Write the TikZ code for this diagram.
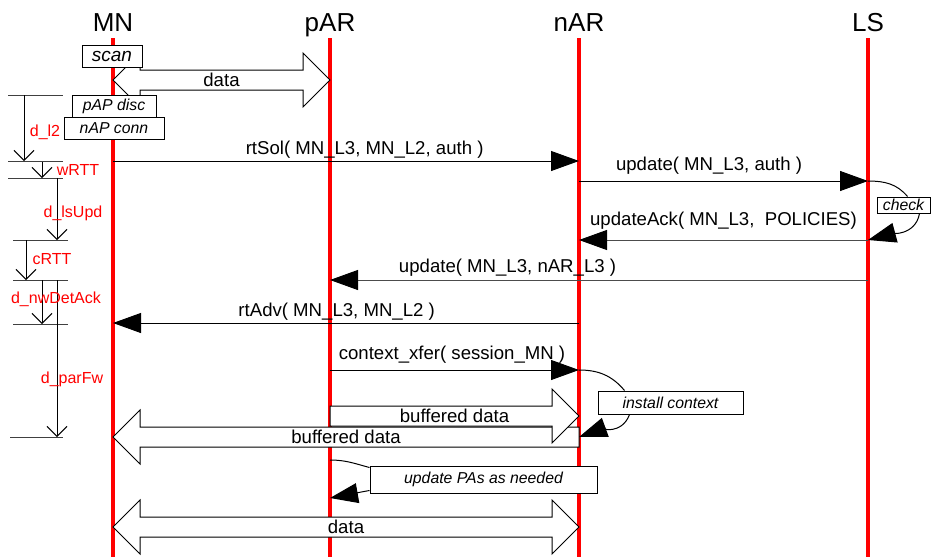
\documentclass[tikz,border=0pt]{standalone}
\usepackage{fontspec}
\setmainfont{Liberation Sans}
\usetikzlibrary{arrows.meta,calc}

% block arrow, tail at #1, tip at #2
\newcommand{\fatarrow}[3]{%
  \coordinate (fh) at ($(#2)!13.5pt!(#1)$);
  \draw[fat] ($(#1)+(0,5pt)$) -- ($(fh)+(0,5pt)$) -- ($(fh)+(0,13.5pt)$) -- (#2)
    -- ($(fh)+(0,-13.5pt)$) -- ($(fh)+(0,-5pt)$) -- ($(#1)+(0,-5pt)$) -- cycle;
  \path (#1) -- node[lab] {#3} (#2);
}
% block arrow, heads at both ends
\newcommand{\fatboth}[3]{%
  \coordinate (fa) at ($(#1)!13.5pt!(#2)$);
  \coordinate (fb) at ($(#2)!13.5pt!(#1)$);
  \draw[fat] (#1) -- ($(fa)+(0,13.5pt)$) -- ($(fa)+(0,5pt)$) -- ($(fb)+(0,5pt)$) -- ($(fb)+(0,13.5pt)$) -- (#2)
    -- ($(fb)+(0,-13.5pt)$) -- ($(fb)+(0,-5pt)$) -- ($(fa)+(0,-5pt)$) -- ($(fa)+(0,-13.5pt)$) -- cycle;
  \path (#1) -- node[lab] {#3} (#2);
}

\begin{document}
\begin{tikzpicture}[x=0.5pt, y=-0.5pt, line width=0.5pt,
	life/.style={red, line width=2pt},
	head/.style={font=\fontsize{13}{15}\selectfont, anchor=base},
	lab/.style={font=\fontsize{9.3}{11}\selectfont, inner sep=1pt},
	msg/.style={-{Triangle[length=14pt, width=10pt, black]}},
	act/.style={draw, fill=white, inner sep=0pt, font=\fontsize{7.9}{9}\selectfont\itshape},
	fat/.style={draw, fill=white},
	tick/.style={black!75},
	dim/.style={-{Straight Barb[length=5pt, width=10pt]}},
	tm/.style={red, font=\fontsize{8}{9}\selectfont, inner sep=0pt}]
	\useasboundingbox (0,0) rectangle (931,557);

	% lifelines
	\foreach \n/\x in {MN/113, pAR/330, nAR/579, LS/868} {
		\node[head] (\n) at (\x,32) {\n};
		\draw[life] (\x,38) -- (\x,557);
	}
	% message heights
	\foreach \m/\y in {data1/80, rtSol/161, upd/181, updAck/240, updPar/280, rtAdv/323, ctx/370,
		bufA/416, bufB/437, upS/460, upPA/498, data2/527}
		\coordinate (\m) at (0,\y);

	\draw[msg] (MN |- rtSol) -- node[lab, above, pos=.54] {rtSol( MN\_L3, MN\_L2, auth )} (nAR |- rtSol);
	\draw[msg] (nAR |- upd) -- node[lab, above=2pt, pos=.45] {update( MN\_L3, auth )} (LS |- upd);
	\draw[msg, black!70] (LS |- updAck) -- node[lab, black, above=4pt] {updateAck( MN\_L3,\ \ POLICIES)} (nAR |- updAck);
	\draw[msg, black!70] (LS |- updPar) -- node[lab, black, above=0.5pt, pos=.67] {update( MN\_L3, nAR\_L3 )} (pAR |- updPar);
	\draw[msg] (nAR |- rtAdv) -- node[lab, above, pos=.52] {rtAdv( MN\_L3, MN\_L2 )} (MN |- rtAdv);
	\draw[msg] (pAR |- ctx) -- node[lab, above=2pt, pos=.49] {context\_xfer( session\_MN )} (nAR |- ctx);

	% check at LS
	\node[act, minimum width=26.5pt, minimum height=8pt] (check) at (903.5,205) {check};
	\draw (LS |- upd) to[out=0, in=130] ([xshift=2pt]check.north);
	\draw[msg] ([xshift=8pt]check.south) to[out=-100, in=15] (LS |- updAck);

	% data transfers
	\fatboth{MN |- data1}{pAR |- data1}{data}
	\fatarrow{nAR |- bufB}{MN |- bufB}{buffered data}
	\fatarrow{pAR |- bufA}{nAR |- bufA}{buffered data}
	\fatboth{MN |- data2}{nAR |- data2}{data}

	% install context at nAR
	\node[act, minimum width=72.5pt, minimum height=11.5pt] (inst) at (670.5,402.5) {install context};
	\draw (nAR |- ctx) to[out=0, in=130] ([xshift=13.5pt]inst.north west);
	\draw[msg] ([xshift=16pt]inst.south west) to[out=-110, in=20] (nAR |- bufB);

	% update PAs at pAR
	\node[act, minimum width=113.5pt, minimum height=13.5pt] (upa) at (483.5,479.5) {update PAs as needed};
	\draw (pAR |- upS) to[out=0, in=165] ([yshift=-1pt]upa.north west);
	\draw[msg] ([yshift=1.5pt]upa.south west) to[out=190, in=10] (pAR |- upPA);

	% MN actions
	\node[act, font=\fontsize{9.5}{11}\selectfont\itshape, minimum width=30pt, minimum height=11pt] (scan) at (112,56) {scan};
	\node[act, minimum width=42pt, minimum height=11pt] (pAPd) at (114,106) {pAP disc};
	\node[act, minimum width=50pt, minimum height=11pt] (nAPc) at (114,128) {nAP conn};

	% delays
	\foreach \a/\b/\y in {8/63/95, 8/63/161, 8/63/178, 13/68/240, 13/68/280, 13/68/324, 10/63/437}
		\draw[tick] (\a,\y) -- (\b,\y);
	\draw[dim] (24,95) -- (24,161);
	\draw[dim] (42,162) -- (42,178);
	\draw[dim] (57,178) -- (57,240);
	\draw[dim] (26,240) -- (26,280);
	\draw[dim] (42,280) -- (42,324);
	\draw[dim] (57,280) -- (57,437);
	\node[tm] (dl2) at (45,132) {d\_l2};
	\node[tm] (wrtt) at (78,170) {wRTT};
	\node[tm] (dls) at (73,213) {d\_lsUpd};
	\node[tm] (crtt) at (52,259) {cRTT};
	\node[tm] (dnw) at (56,299) {d\_nwDetAck};
	\node[tm] (dpar) at (72,379) {d\_parFw};
\end{tikzpicture}
\end{document}
